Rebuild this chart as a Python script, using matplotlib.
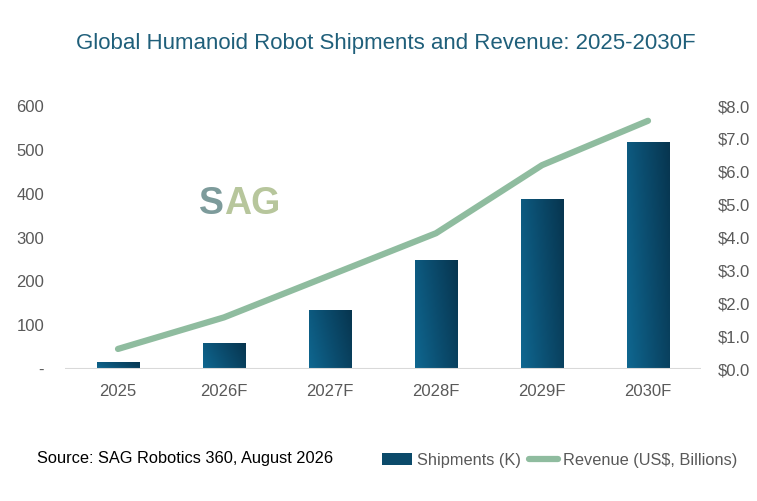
import numpy as np
import matplotlib.pyplot as plt
from matplotlib.colors import LinearSegmentedColormap
from matplotlib.lines import Line2D
from matplotlib.patches import Patch

years = ["2025", "2026F", "2027F", "2028F", "2029F", "2030F"]
shipments = [16, 59, 134, 248, 387, 519]
revenue = [0.61, 1.57, 2.85, 4.13, 6.2, 7.55]

left_ticks = [0, 100, 200, 300, 400, 500, 600]
left_labels = ["-", "100", "200", "300", "400", "500", "600"]
right_ticks = [0, 1, 2, 3, 4, 5, 6, 7, 8]

txt = "#595959"
line_col = "#8fbc9f"

plt.rcParams["font.family"] = ["Liberation Sans", "DejaVu Sans"]

fig = plt.figure(figsize=(7.57, 5.01), dpi=100)
ax = fig.add_axes([65 / 757, 1 - 369 / 501, 636 / 757, 263 / 501])
ax2 = ax.twinx()

x = np.arange(len(years))
bars = ax.bar(x, shipments, width=0.4, color="#0b4a6a", zorder=2)

# diagonal gradient inside each bar (lighter bottom-left, darker top-right)
cmap = LinearSegmentedColormap.from_list("bar", ["#0f6790", "#0b4d6f", "#07354f"])
u = np.linspace(0, 1, 64)
v = np.linspace(0, 1, 128)[:, None]
grad = 0.75 * u[None, :] + 0.25 * (1 - v)
for b in bars:
    x0, y0 = b.get_x(), b.get_y()
    im = ax.imshow(grad, cmap=cmap, aspect="auto", zorder=3, vmin=0, vmax=1,
                   extent=[x0, x0 + b.get_width(), y0, y0 + b.get_height()])
    im.set_clip_path(b)

ax.set_xlim(-0.5, 5.5)
ax.set_ylim(0, 600)
ax.set_yticks(left_ticks)
ax.set_yticklabels(left_labels)
ax.set_xticks(x)
ax.set_xticklabels(years)

ax2.plot(x, revenue, color=line_col, lw=4.5, solid_capstyle="round",
         solid_joinstyle="round", zorder=4)
ax2.set_ylim(0, 8)
ax2.set_yticks(right_ticks)
ax2.set_yticklabels(["$%.1f" % v for v in right_ticks])

for a in (ax, ax2):
    for s in a.spines.values():
        s.set_visible(False)
    a.tick_params(length=0, labelsize=12, colors=txt)
ax.tick_params(axis="y", pad=15)
ax.tick_params(axis="x", pad=11)
ax2.tick_params(axis="y", pad=12)
ax.axhline(0, color="#d9d9d9", lw=1.5, zorder=5)

fig.text(386 / 757, 1 - 44 / 501, "Global Humanoid Robot Shipments and Revenue: 2025-2030F",
         ha="center", va="center", fontsize=16, color="#1f5f7a")

# logo
fig.text(224 / 757, 1 - 204 / 501, "S", fontsize=27, fontweight="bold",
         color="#7d9b9b", va="center", ha="right")
fig.text(224.5 / 757, 1 - 204 / 501, "AG", fontsize=27, fontweight="bold",
         color="#b7c69c", va="center", ha="left")

fig.text(37 / 757, 1 - 458 / 501, "Source: SAG Robotics 360, August 2026",
         fontsize=11.8, color="black", va="center")

handles = [Patch(facecolor="#0b4a6a", edgecolor="none"),
           Line2D([0], [0], color=line_col, lw=4.5, solid_capstyle="round")]
fig.legend(handles, ["Shipments (K)", "Revenue (US$, Billions)"],
           loc="center right", bbox_to_anchor=(752 / 757, 1 - 460 / 501),
           ncol=2, frameon=False, fontsize=11.8, labelcolor=txt,
           handlelength=1.8, handletextpad=0.3, columnspacing=0.5)

fig.savefig("out.png", dpi=100)
